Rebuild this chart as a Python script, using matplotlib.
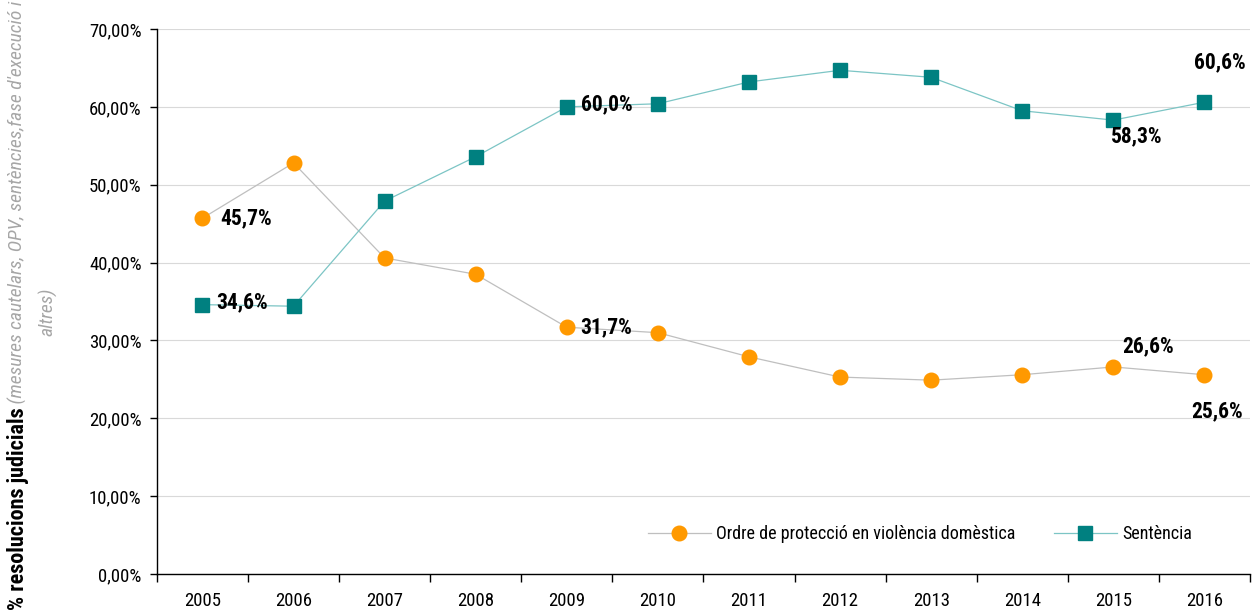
import numpy as np
import matplotlib.pyplot as plt
from matplotlib.ticker import FixedLocator, FuncFormatter

plt.rcParams['font.family'] = ['Roboto Condensed', 'Liberation Sans', 'DejaVu Sans']

anys = ['2005', '2006', '2007', '2008', '2009', '2010', '2011', '2012', '2013', '2014', '2015', '2016']
ordre = [45.7, 52.8, 40.6, 38.5, 31.7, 31.0, 27.9, 25.3, 24.9, 25.6, 26.6, 25.6]
sentencia = [34.6, 34.4, 47.9, 53.6, 60.0, 60.4, 63.2, 64.7, 63.8, 59.5, 58.3, 60.6]

# etiquetes: (serie, index, desplaçament en punts, alineació)
etiquetes = [
    (ordre, 0, (13, 0), 'left'),
    (sentencia, 0, (10, 2), 'left'),
    (ordre, 4, (10, 0), 'left'),
    (sentencia, 4, (10, 2), 'left'),
    (sentencia, 10, (17, -12), 'center'),
    (ordre, 10, (25, 15), 'center'),
    (sentencia, 11, (11, 29), 'center'),
    (ordre, 11, (9, -26), 'center'),
]

fig = plt.figure(figsize=(12.55, 6.12), dpi=100)
ax = fig.add_axes([0.125, 0.062, 0.871, 0.8906])

x = np.arange(len(anys))
ax.plot(x, ordre, color='#BFBFBF', lw=0.9, marker='o', ms=10.5,
        mfc='#FF9900', mec='#FF9900', label='Ordre de protecció en violència domèstica', zorder=3)
ax.plot(x, sentencia, color='#7CC5C5', lw=0.9, marker='s', ms=10,
        mfc='#008080', mec='#008080', label='Sentència', zorder=3)

for serie, i, off, ha in etiquetes:
    ax.annotate(f'{serie[i]:.1f}%'.replace('.', ','), (x[i], serie[i]),
                xytext=off, textcoords='offset points', ha=ha, va='center',
                fontsize=15.5, fontweight='bold', zorder=4)

ax.set_xlim(-0.5, len(anys) - 0.5)
ax.set_ylim(0, 70)
ax.set_yticks(np.arange(0, 71, 10))
ax.yaxis.set_major_formatter(FuncFormatter(lambda v, p: f'{v:.2f}%'.replace('.', ',')))
ax.set_xticks(x)
ax.set_xticklabels(anys)
ax.xaxis.set_minor_locator(FixedLocator(np.arange(-0.5, len(anys), 1)))
ax.tick_params(axis='x', which='major', length=0, pad=13, labelsize=13.5)
ax.tick_params(axis='x', which='minor', length=6, direction='out', width=1)
ax.tick_params(axis='y', length=5, width=1, labelsize=13.5, pad=6)

ax.grid(axis='y', color='#D9D9D9', lw=0.8)
ax.set_axisbelow(True)
for s in ['top', 'right']:
    ax.spines[s].set_visible(False)
ax.spines['left'].set_linewidth(1)
ax.spines['bottom'].set_linewidth(1)

ax.legend(loc='lower right', bbox_to_anchor=(0.962, 0.027), ncol=2, frameon=False,
          fontsize=13, handlelength=3.5, columnspacing=2.1, handletextpad=0.3)

# títol de l'eix y en dues parts
t1 = fig.text(0.014, 0.003, '% resolucions judicials', rotation=90, ha='center', va='bottom',
              fontsize=16, fontweight='bold')
fig.canvas.draw()
ax.annotate(" (mesures cautelars, OPV, sentències,fase d'execució i", xy=(0.5, 1), xycoords=t1,
            rotation=90, ha='center', va='bottom', fontsize=14, style='italic', color='#A6A6A6',
            annotation_clip=False)
fig.text(0.038, 0.49, 'altres)', rotation=90, ha='center', va='center',
         fontsize=14, style='italic', color='#A6A6A6')

plt.savefig('out.png', dpi=100)
